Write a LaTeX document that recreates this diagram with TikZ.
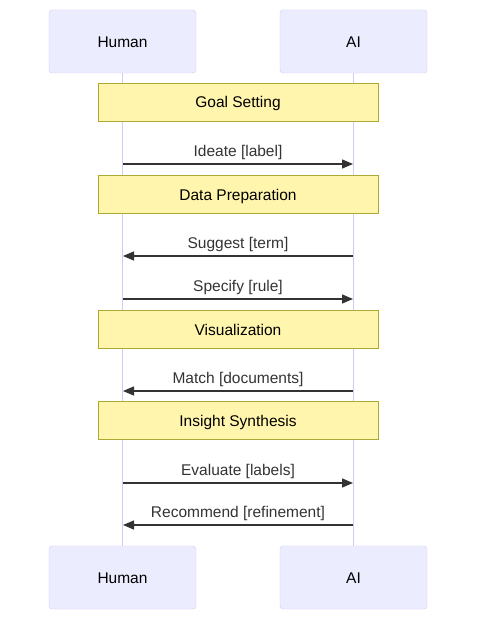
\documentclass[tikz,border=0pt]{standalone}
\usepackage{fontspec}
\setmainfont{Liberation Sans}
\usetikzlibrary{arrows.meta,positioning}
\definecolor{actfill}{HTML}{ECECFF}
\definecolor{actline}{HTML}{D2CBF2}
\definecolor{notefill}{HTML}{FFF5AD}
\definecolor{noteline}{HTML}{AAAA33}
\definecolor{msg}{HTML}{333333}
\tikzset{
  szer/.style={draw=actline,fill=actfill,rounded corners=3pt,minimum width=147pt,
    minimum height=63pt,inner sep=0pt,text height=13pt,text depth=1pt,
    font=\fontsize{15.5}{18}\selectfont},
  megj/.style={draw=noteline,fill=notefill,minimum width=280pt,minimum height=38pt,
    inner sep=0pt,text height=13pt,text depth=1pt,font=\fontsize{15.5}{18}\selectfont},
  elet/.style={draw=actline,line width=1.6pt},
  uzen/.style={draw=msg,line width=1.3pt,-{Triangle[length=11pt,width=9pt]}},
  cimke/.style={font=\fontsize{15.5}{18}\selectfont,text=msg,inner sep=0pt,
    text height=11pt,text depth=3pt},
}
\begin{document}
\begin{tikzpicture}[x=1pt,y=-1pt]
  \useasboundingbox (0,0) rectangle (485,631);
  % szereplok
  \node[szer] (hf) at (122.5,41.5) {Human};
  \node[szer] (af) at (353.5,41.5) {AI};
  \node[szer] (ha) at (122.5,577.5) {Human};
  \node[szer] (aa) at (353.5,577.5) {AI};
  \draw[elet] (hf) -- (ha);
  \draw[elet] (af) -- (aa);
  % megjegyzesek
  \node[megj] (n1) at (238,102) {Goal Setting};
  \node[megj] (n2) at (238,194) {Data Preparation};
  \node[megj] (n3) at (238,329) {Visualization};
  \node[megj] (n4) at (238,420) {Insight Synthesis};
  % uzenetek
  \foreach \y/\n in {164/1,256/2,299/3,391/4,483/5,525/6}{
    \coordinate (h\n) at (123,\y);
    \coordinate (a\n) at (353,\y);
  }
  \draw[uzen] (h1) -- (a1) node[cimke,midway,above=4pt] {Ideate [label]};
  \draw[uzen] (a2) -- (h2) node[cimke,midway,above=4pt] {Suggest [term]};
  \draw[uzen] (h3) -- (a3) node[cimke,midway,above=4pt] {Specify [rule]};
  \draw[uzen] (a4) -- (h4) node[cimke,midway,above=4pt] {Match [documents]};
  \draw[uzen] (h5) -- (a5) node[cimke,midway,above=4pt] {Evaluate [labels]};
  \draw[uzen] (a6) -- (h6) node[cimke,midway,above=4pt] {Recommend [refinement]};
\end{tikzpicture}
\end{document}
